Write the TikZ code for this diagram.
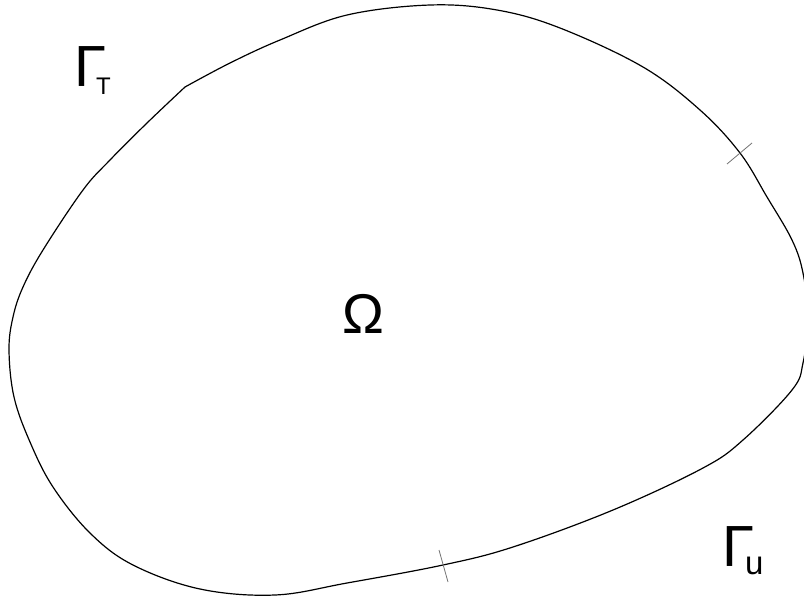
\documentclass[tikz,border=0pt]{standalone}
\usepackage{fontspec}
\setmainfont{Liberation Sans}
\begin{document}
\begin{tikzpicture}[x=1pt,y=-1pt,
  boundary/.style={line width=1.2pt,black},
  tickmark/.style={line width=0.8pt,black!55},
  gammalabel/.style={inner sep=0pt,anchor=base west,font=\fontsize{58}{60}\selectfont},
  omegalabel/.style={inner sep=0pt,anchor=base,font=\fontsize{56}{58}\selectfont}]
\useasboundingbox (0,0) rectangle (804,598);
\clip (0,0) rectangle (804,598);
\draw[boundary] plot[smooth,tension=0.6] coordinates {
  (185,87) (230,63) (280,40) (347,15) (430,5) (497,10) (560,28) (643,67)
  (700,110) (740,153) (767,197) (792,240) (803,273) (808,318) (803,363)
  (792,390) (743,440) (703,468) (613,510) (513,547) (443,565) (347,583)
  (275,595) (200,589) (133,565) (90,533) (53,487) (30,442)
  (14,397) (9,350) (13,317) (23,287) (43,250) (83,190) (110,160)
  (147,123) (185,87)};
\coordinate (t1a) at (727,164);
\coordinate (t1b) at (752,143);
\coordinate (t2a) at (439,550);
\coordinate (t2b) at (448,582);
\draw[tickmark] (t1a) -- (t1b);
\draw[tickmark] (t2a) -- (t2b);
\node[gammalabel] (gT) at (73.9,86) {Γ\kern-9.9pt\raisebox{-8pt}{\fontsize{24}{26}\selectfont T}};
\node[gammalabel] (gU) at (722.4,566) {Γ\kern-9.35pt\raisebox{-8pt}{\fontsize{33}{35}\selectfont u}};
\node[omegalabel] (om) at (363,333) {Ω};
\end{tikzpicture}
\end{document}
